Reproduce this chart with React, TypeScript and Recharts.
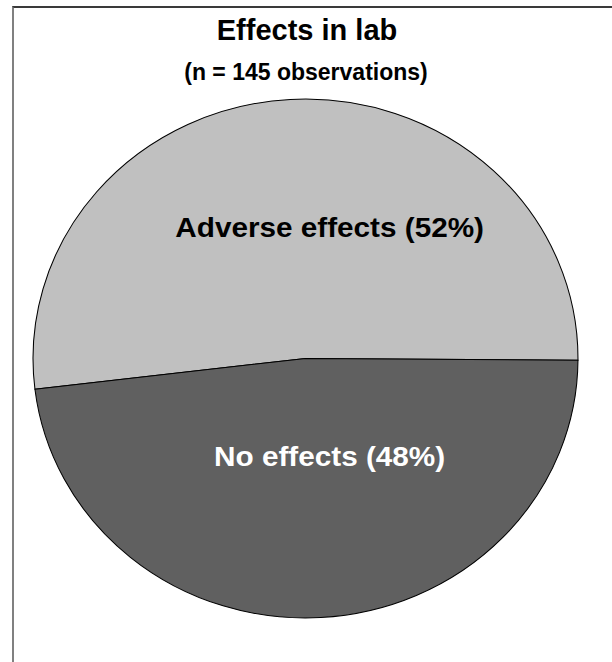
import { Cell, Pie, PieChart } from "recharts";

const categories = ["Adverse effects", "No effects"];
const shares = [52, 48];
const fills = ["#C0C0C0", "#606060"];
const labelColors = ["#000000", "#FFFFFF"];

const title = "Effects in lab";
const subtitle = "(n = 145 observations)";

const data = categories.map((name, i) => ({ name, value: shares[i] }));

// the original picture is slightly stretched sideways
const STRETCH = 1.05;
const CX = 305.5;
const CY = 358.5;
const RADIUS = 259.5;
const FONT = "'Liberation Sans', Arial, Helvetica, sans-serif";

const RAD = Math.PI / 180;

function renderLabel(props: any) {
  const { cx, cy, midAngle, outerRadius, index, name, value } = props;
  const d = outerRadius * 0.442;
  const x = cx + 23;
  const y = cy - d * Math.sin(midAngle * RAD) - 17;
  return (
    <text
      x={x}
      y={y}
      textAnchor="middle"
      dominantBaseline="central"
      fill={labelColors[index]}
      fontFamily={FONT}
      fontWeight="bold"
      fontSize={28.3}
    >
      {`${name} (${value}%)`}
    </text>
  );
}

export default function App() {
  return (
    <div
      style={{
        position: "absolute",
        left: 0,
        top: 0,
        width: 612,
        height: 662,
        overflow: "hidden",
        background: "#FFFFFF",
      }}
    >
      <div
        style={{
          position: "absolute",
          left: 12,
          top: 6,
          width: 640,
          height: 700,
          borderTop: "2px solid #3A3A3A",
          borderLeft: "2px solid #808080",
        }}
      />
      <div
        style={{
          position: "absolute",
          left: 0,
          top: 0,
          transform: `scaleX(${STRETCH})`,
          transformOrigin: `${CX}px 0px`,
        }}
      >
        <PieChart width={612} height={662} margin={{ top: 0, right: 0, bottom: 0, left: 0 }}>
          <Pie
            data={data}
            dataKey="value"
            nameKey="name"
            cx={CX}
            cy={CY}
            outerRadius={RADIUS}
            startAngle={-0.4}
            endAngle={359.6}
            stroke="#000000"
            strokeWidth={1}
            label={renderLabel}
            labelLine={false}
            isAnimationActive={false}
          >
            {data.map((d, i) => (
              <Cell key={d.name} fill={fills[i]} />
            ))}
          </Pie>
        </PieChart>
      </div>
      <svg
        width={612}
        height={662}
        style={{ position: "absolute", left: 0, top: 0, pointerEvents: "none" }}
      >
        <text
          x={307}
          y={40}
          textAnchor="middle"
          fontFamily={FONT}
          fontWeight="bold"
          fontSize={29}
          fill="#000000"
        >
          {title}
        </text>
        <text
          x={306}
          y={80}
          textAnchor="middle"
          fontFamily={FONT}
          fontWeight="bold"
          fontSize={23}
          fill="#000000"
        >
          {subtitle}
        </text>
      </svg>
    </div>
  );
}
